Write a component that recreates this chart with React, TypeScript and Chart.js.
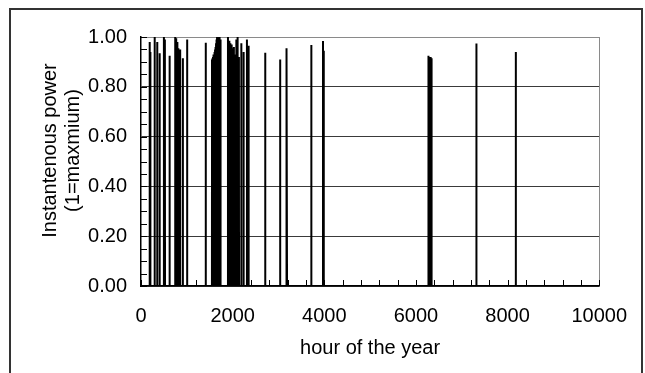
import { useEffect, useRef } from 'react';
import { Chart, registerables } from 'chart.js';

Chart.register(...registerables);

// Hours of the year at which the power peaks, and the peak level (1 = maximum)
const spikeHours = [
  189, 204, 298, 354, 407, 500, 522, 624, 746, 767, 793, 815, 854, 913, 1007, 1413,
  1550, 1561, 1572, 1583, 1594, 1605, 1616, 1627, 1638, 1649, 1660, 1671, 1682, 1693, 1704, 1715, 1726, 1739,
  1898, 1928, 1950, 1972, 1985, 2007, 2028, 2043, 2080, 2098, 2115, 2137, 2189, 2239, 2311, 2348,
  2711, 3037, 3167, 3185, 3717, 3972, 3989,
  6267, 6278, 6290, 6302, 6314, 6326, 6341, 7320, 8180,
];
const spikeValues = [
  0.98, 0.94, 1.0, 0.98, 0.935, 1.0, 0.99, 0.925, 1.0, 0.995, 0.98, 0.955, 0.95, 0.915, 0.99, 0.977,
  0.91, 0.915, 0.92, 0.93, 0.925, 0.94, 0.95, 0.96, 0.975, 0.99, 1.0, 0.985, 1.0, 0.995, 1.0, 0.98, 0.96, 0.99,
  1.0, 0.985, 0.975, 0.97, 0.96, 0.955, 0.96, 0.93, 0.99, 1.0, 0.985, 0.92, 0.975, 0.94, 0.99, 0.965,
  0.937, 0.91, 0.955, 0.945, 0.968, 0.984, 0.945,
  0.925, 0.92, 0.92, 0.92, 0.92, 0.92, 0.915, 0.974, 0.94,
];

const hoursInYear = 8760;
const xTickLabels = ['0', '2000', '4000', '6000', '8000', '10000'];
const yTickLabels = ['0.00', '0.20', '0.40', '0.60', '0.80', '1.00'];
const yTitleLines = ['Instantenous power', '(1=maxmium)'];
const xMinorStep = 400;
const yMinorStep = 0.05;

const FONT = "'Liberation Sans', Arial, sans-serif";

function buildSeries() {
  const pts: { x: number; y: number }[] = [{ x: 0, y: 0 }];
  spikeHours.forEach((h, i) => {
    pts.push({ x: h - 2, y: 0 });
    pts.push({ x: h, y: spikeValues[i] });
    pts.push({ x: h + 2, y: 0 });
  });
  pts.push({ x: hoursInYear, y: 0 });
  return pts;
}

const decorations = {
  id: 'decorations',
  afterDraw(chart: any) {
    const { ctx, chartArea: a, scales } = chart;
    const xs = scales.x;
    const ys = scales.y;
    ctx.save();
    // right border of the plot
    ctx.strokeStyle = '#8a8a8a';
    ctx.lineWidth = 1;
    ctx.beginPath();
    ctx.moveTo(Math.round(a.right) + 0.5, a.top);
    ctx.lineTo(Math.round(a.right) + 0.5, a.bottom);
    ctx.stroke();
    // inward tick marks
    ctx.strokeStyle = '#000';
    ctx.beginPath();
    for (let v = 0; v <= xs.max + 1e-6; v += xMinorStep) {
      const px = Math.round(xs.getPixelForValue(v)) + 0.5;
      ctx.moveTo(px, a.bottom);
      ctx.lineTo(px, a.bottom - 6);
    }
    for (let v = 0; v <= ys.max + 1e-6; v += yMinorStep) {
      const py = Math.round(ys.getPixelForValue(v)) + 0.5;
      ctx.moveTo(a.left, py);
      ctx.lineTo(a.left + 6, py);
    }
    ctx.stroke();
    // rotated two-line y-axis title
    ctx.fillStyle = '#000';
    ctx.font = `20px ${FONT}`;
    ctx.textAlign = 'center';
    ctx.textBaseline = 'middle';
    ctx.translate(50, (a.top + a.bottom) / 2 - 11);
    ctx.rotate(-Math.PI / 2);
    yTitleLines.forEach((line, i) => ctx.fillText(line, 0, i * 23));
    ctx.setTransform(1, 0, 0, 1, 0, 0);
    // outer frame
    ctx.strokeStyle = '#333';
    ctx.lineWidth = 2;
    ctx.strokeRect(10, 9, 632, 420);
    ctx.restore();
  },
};

export default function App() {
  const ref = useRef<HTMLCanvasElement>(null);
  useEffect(() => {
    if (!ref.current) return;
    const chart = new Chart(ref.current, {
      type: 'line',
      data: {
        datasets: [
          {
            data: buildSeries(),
            borderColor: '#000',
            borderWidth: 2,
            pointRadius: 0,
            tension: 0,
            fill: false,
          },
        ],
      },
      options: {
        animation: false,
        responsive: false,
        events: [],
        layout: { padding: { left: 0, top: 37, right: 44, bottom: 0 } },
        plugins: { legend: { display: false }, tooltip: { enabled: false } },
        scales: {
          x: {
            type: 'linear',
            min: 0,
            max: 10000,
            grid: { display: false, drawTicks: false },
            border: { display: true, color: '#000', width: 1.5 },
            ticks: {
              stepSize: 2000,
              padding: 18,
              color: '#000',
              font: { family: FONT, size: 20 },
              callback: (_v: any, i: number) => xTickLabels[i],
            },
            title: {
              display: true,
              text: 'hour of the year',
              color: '#000',
              font: { family: FONT, size: 20 },
              padding: { top: 0, bottom: 13 },
            },
            afterFit: (s: any) => {
              s.height = 87;
            },
          },
          y: {
            min: 0,
            max: 1,
            grid: {
              drawTicks: false,
              color: (c: any) => (c.tick && c.tick.value === 1 ? '#8a8a8a' : '#3a3a3a'),
              lineWidth: 1,
            },
            border: { display: true, color: '#000', width: 1.5 },
            ticks: {
              stepSize: 0.2,
              padding: 14,
              color: '#000',
              font: { family: FONT, size: 20 },
              callback: (_v: any, i: number) => yTickLabels[i],
            },
            afterFit: (s: any) => {
              s.width = 141;
            },
          },
        },
      },
      plugins: [decorations],
    });
    return () => chart.destroy();
  }, []);
  return (
    <div style={{ position: 'fixed', left: 0, top: 0, width: 645, height: 373, background: '#fff' }}>
      <canvas ref={ref} width={645} height={373} style={{ width: 645, height: 373, display: 'block' }} />
    </div>
  );
}
